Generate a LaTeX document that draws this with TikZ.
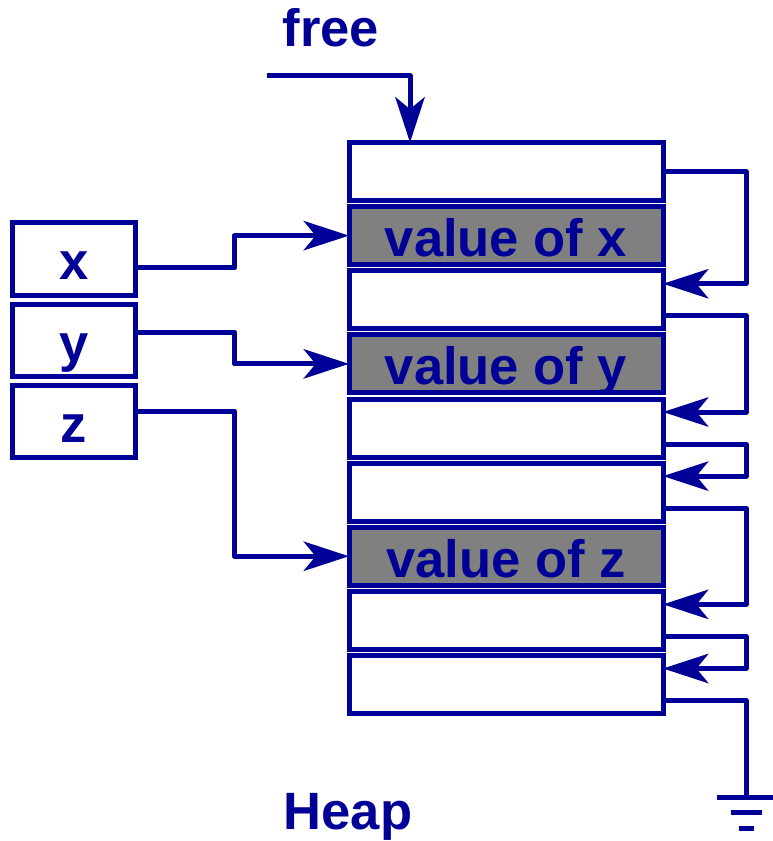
\documentclass[tikz,border=0pt]{standalone}
\usepackage{fontspec}
\setmainfont{Liberation Sans}
\usetikzlibrary{arrows.meta}
\definecolor{heapblue}{RGB}{0,0,150}
\definecolor{heapgray}{RGB}{128,128,128}
\tikzset{
  cell/.style={draw=heapblue,line width=3.75pt,minimum width=235.5pt,minimum height=43.5pt,inner sep=0pt,outer sep=0pt},
  var/.style={cell,minimum width=92pt,minimum height=54pt},
  wire/.style={draw=heapblue,line width=3.75pt,line join=round},
  ptr/.style={wire,-{Stealth[length=34pt,width=22pt,inset=9pt]}},
  lbl/.style={text=heapblue,font=\fontsize{39.4}{40}\selectfont\bfseries,text height=31.5pt,text depth=0pt}
}
\begin{document}
\begin{tikzpicture}[x=0.75pt,y=-0.75pt]
\useasboundingbox (0,0) rectangle (772,841);
% heap cells
\foreach \i in {1,3,5,6,8,9}
  \node[cell] (c\i) at (506,107.375+64.125*\i) {};
\foreach \i/\v in {2/x,4/y,7/z}
  \node[cell,lbl,fill=heapgray] (c\i) at (506,107.375+64.125*\i) {value of \v};
% variables
\node[var,lbl] (vx) at (74,259) {x};
\node[var,lbl] (vy) at (74,340) {y};
\node[var,lbl] (vz) at (74,421) {z};
\draw[ptr] ([yshift=-6.75pt]vx.east) -- ++(99,0) |- (c2.west);
\draw[ptr] ([yshift=6pt]vy.east) -- ++(99,0) |- (c4.west);
\draw[ptr] ([yshift=7.5pt]vz.east) -- ++(99,0) |- (c7.west);
% free list
\node[lbl,anchor=base] (freelbl) at (331,47) {free};
\coordinate (freeptr) at (267,76);
\draw[ptr] (freeptr) -| ([xshift=-72pt]c1.north);
\draw[ptr] (c1.east) -- ++(83,0) |- ([yshift=12pt]c3.east);
\foreach \a/\b in {3/5,5/6,6/8,8/9}
  \draw[ptr] ([yshift=-12pt]c\a.east) -- ++(83,0) |- ([yshift=12pt]c\b.east);
% end of list
\coordinate (gnd) at (746,797);
\draw[wire] ([yshift=-12pt]c9.east) -| (gnd);
\draw[wire] (gnd) ++(-29,0) -- ++(58,0);
\draw[wire] (gnd) ++(-15.5,15) -- ++(31,0);
\draw[wire] (gnd) ++(-7.5,31) -- ++(15,0);
\node[lbl,anchor=base] (heaplbl) at (348,829) {Heap};
\end{tikzpicture}
\end{document}
